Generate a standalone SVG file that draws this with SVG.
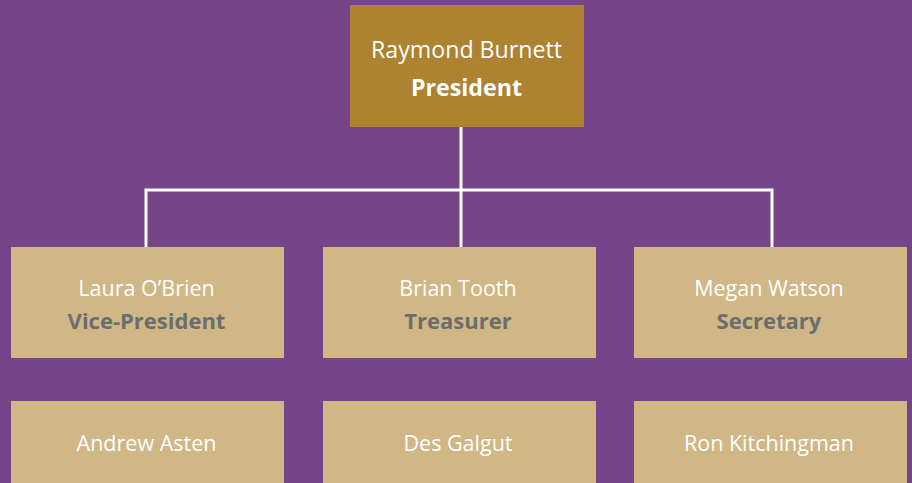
<svg xmlns="http://www.w3.org/2000/svg" width="912" height="483" viewBox="0 0 912 483">
<style>
.bg{fill:#764489}
.top{fill:#ad8230}
.box{fill:#d0b785}
.nm{font-family:"Open Sans","Liberation Sans",sans-serif;font-size:21.5px;fill:#ffffff;text-anchor:middle}
.nt{font-size:23.2px}
.tt{font-family:"Open Sans","Liberation Sans",sans-serif;font-size:22px;font-weight:bold;fill:#6b6e71;text-anchor:middle}
.tw{font-family:"Open Sans","Liberation Sans",sans-serif;font-size:23.2px;font-weight:bold;fill:#ffffff;text-anchor:middle}
.ln{fill:none;stroke:#ffffff;stroke-width:3}
</style>
<rect class="bg" x="0" y="0" width="912" height="483"/>
<g id="connectors">
<path class="ln" d="M461 127 V247 M146 247 V190 H772 V247"/>
</g>
<g id="president">
<rect class="top" x="350" y="5" width="234" height="122"/>
<text class="nm nt" x="466.5" y="58">Raymond Burnett</text>
<text class="tw" x="466.5" y="96">President</text>
</g>
<g id="vp">
<rect class="box" x="11" y="247" width="273" height="111"/>
<text class="nm" x="146.5" y="296">Laura O’Brien</text>
<text class="tt" x="146.5" y="329">Vice-President</text>
</g>
<g id="treasurer">
<rect class="box" x="323" y="247" width="273" height="111"/>
<text class="nm" x="458" y="296">Brian Tooth</text>
<text class="tt" x="458" y="329">Treasurer</text>
</g>
<g id="secretary">
<rect class="box" x="634" y="247" width="273" height="111"/>
<text class="nm" x="769" y="296">Megan Watson</text>
<text class="tt" x="769" y="329">Secretary</text>
</g>
<g id="andrew">
<rect class="box" x="11" y="401" width="273" height="90"/>
<text class="nm" x="146.5" y="451">Andrew Asten</text>
</g>
<g id="des">
<rect class="box" x="323" y="401" width="273" height="90"/>
<text class="nm" x="458" y="451">Des Galgut</text>
</g>
<g id="ron">
<rect class="box" x="634" y="401" width="273" height="90"/>
<text class="nm" x="769" y="451">Ron Kitchingman</text>
</g>
</svg>
